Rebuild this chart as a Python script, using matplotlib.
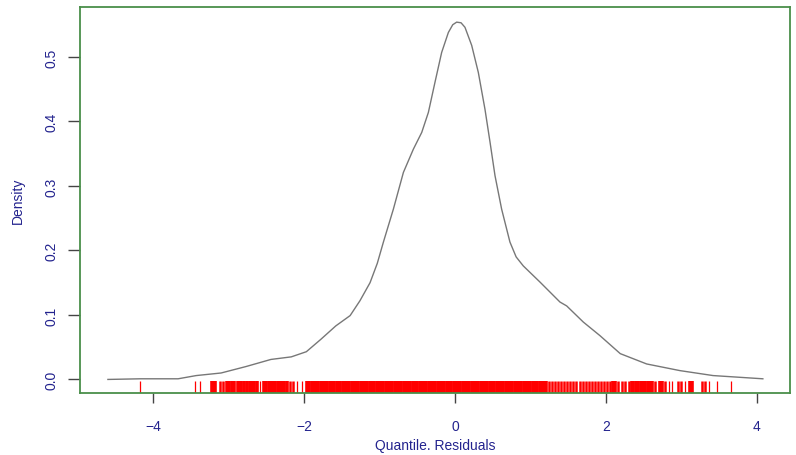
import matplotlib
matplotlib.use("Agg")
import matplotlib.pyplot as plt

plt.rcParams['font.family'] = ['Liberation Sans', 'DejaVu Sans']

# density curve
resid_x = [-4.60, -4.17, -3.67, -3.43, -3.10, -2.77, -2.44, -2.17, -1.97, -1.78,
           -1.58, -1.39, -1.26, -1.126, -1.03, -0.949, -0.817, -0.684, -0.552, -0.441,
           -0.353, -0.265, -0.177, -0.088, -0.03, 0.022, 0.08, 0.132, 0.221, 0.309,
           0.397, 0.464, 0.530, 0.618, 0.728, 0.81, 0.905, 1.126, 1.391, 1.48,
           1.70, 1.92, 2.19, 2.54, 2.98, 3.42, 4.08]
density = [0.000, 0.001, 0.001, 0.006, 0.010, 0.020, 0.031, 0.035, 0.043, 0.062,
           0.083, 0.099, 0.122, 0.150, 0.180, 0.213, 0.264, 0.321, 0.357, 0.383,
           0.414, 0.461, 0.507, 0.538, 0.550, 0.554, 0.553, 0.546, 0.518, 0.476,
           0.419, 0.368, 0.316, 0.264, 0.213, 0.190, 0.176, 0.151, 0.120, 0.114,
           0.089, 0.068, 0.040, 0.024, 0.0137, 0.006, 0.001]

# rug positions (residuals)
rug_vals = [-4.18, -3.45, -3.38, -3.22, -3.20, -3.18, -3.11, -3.07, -3.02, -2.99, -2.96, -2.93,
            -2.88, -2.86, -2.83, -2.79, -2.76, -2.72, -2.69, -2.66, -2.63, -2.58,
            -2.53, -2.50, -2.47, -2.44, -2.41, -2.38, -2.35, -2.32, -2.29, -2.26, -2.23, -2.19,
            -2.15, -2.10, -2.03,
            -1.96, -1.93, -1.90, -1.87, -1.84, -1.81, -1.78, -1.75, -1.72, -1.69, -1.66, -1.63,
            -1.60, -1.57, -1.54, -1.52, -1.49, -1.46, -1.43, -1.40, -1.37, -1.34, -1.31, -1.28,
            -1.25, -1.22, -1.19, -1.16, -1.13, -1.10, -1.07, -1.04, -1.01, -0.98, -0.95, -0.92,
            -0.89, -0.86, -0.83, -0.80, -0.77, -0.74, -0.71, -0.68, -0.65, -0.62, -0.59, -0.56,
            -0.53, -0.50, -0.47, -0.44, -0.41, -0.38, -0.35, -0.32, -0.29, -0.26, -0.23, -0.20,
            -0.17, -0.14, -0.11, -0.08, -0.05, -0.02, 0.01, 0.04, 0.07, 0.10, 0.13, 0.16,
            0.19, 0.22, 0.25, 0.28, 0.31, 0.34, 0.37, 0.40, 0.43, 0.46, 0.49, 0.52,
            0.55, 0.58, 0.61, 0.64, 0.67, 0.70, 0.73, 0.76, 0.79, 0.82, 0.85, 0.88,
            0.91, 0.94, 0.97, 1.00, 1.03, 1.06, 1.09, 1.12, 1.15, 1.18,
            1.21, 1.25, 1.29, 1.33, 1.37, 1.41, 1.45, 1.49, 1.53, 1.57, 1.61, 1.65, 1.69,
            1.74, 1.78, 1.82, 1.86, 1.90, 1.94, 1.98, 2.02, 2.06, 2.10,
            2.12, 2.16, 2.21, 2.25, 2.30, 2.34, 2.36, 2.40, 2.43, 2.47, 2.49, 2.52, 2.56,
            2.58, 2.61, 2.65, 2.72, 2.74, 2.78, 2.83, 2.88, 2.96, 3.00, 3.05, 3.11, 3.14,
            3.27, 3.31, 3.36, 3.47, 3.66]

x_ticks = [-4, -2, 0, 2, 4]
y_ticks = [0.0, 0.1, 0.2, 0.3, 0.4, 0.5]

text_col = '#23238e'

# thicker rug strokes where the ticks crowd together so the block reads solid
rug_lw = []
for i, v in enumerate(rug_vals):
    gaps = []
    if i > 0:
        gaps.append(v - rug_vals[i - 1])
    if i < len(rug_vals) - 1:
        gaps.append(rug_vals[i + 1] - v)
    g = min(gaps)
    if g <= 0.031:
        rug_lw.append(2.6)
    elif g <= 0.041:
        rug_lw.append(1.8)
    else:
        rug_lw.append(0.9)

fig = plt.figure(figsize=(7.96, 4.56), dpi=100)
ax = fig.add_axes([0.1005, 0.136, 0.892, 0.8465])

ax.plot(resid_x, density, color='#777777', lw=1.0, solid_joinstyle='round')
ax.vlines(rug_vals, 0, 0.031, transform=ax.get_xaxis_transform(), color='red',
          linewidths=rug_lw)

ax.set_xlim(-4.97, 4.44)
ax.set_ylim(-0.021, 0.5775)

ax.set_xticks(x_ticks)
ax.set_xticklabels(['\u22124', '\u22122', '0', '2', '4'])
ax.set_yticks(y_ticks)
ax.set_yticklabels(['0.0', '0.1', '0.2', '0.3', '0.4', '0.5'], rotation=90, va='center')

ax.tick_params(axis='x', length=7.5, width=1, color='#444444', labelcolor=text_col,
               labelsize=10, pad=11)
ax.tick_params(axis='y', length=8.5, width=1, color='#444444', labelcolor=text_col,
               labelsize=10, pad=7)

for s in ax.spines.values():
    s.set_color('#4a8f4a')
    s.set_linewidth(1.3)

ax.set_xlabel('Quantile. Residuals', color=text_col, fontsize=10, labelpad=4)
ax.set_ylabel('Density', color=text_col, fontsize=10, labelpad=14)

fig.savefig('out.png', dpi=100)
